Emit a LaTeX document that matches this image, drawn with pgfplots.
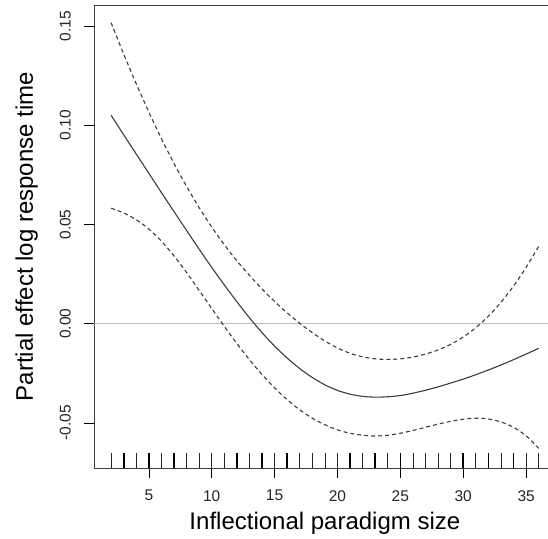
\documentclass[border=0pt]{standalone}
\usepackage{fontspec}
\setmainfont{Liberation Sans}
\usepackage{pgfplots}
\pgfplotsset{compat=1.18}

% smooth term: estimate and +/- 2 se bands
\pgfplotstableread{
x   fit      up       lo
2   0.1050   0.1517   0.0582
3   0.0952   0.1359   0.0558
4   0.0855   0.1209   0.0524
5   0.0758   0.1067   0.0477
6   0.0661   0.0933   0.0416
7   0.0565   0.0808   0.0342
8   0.0470   0.0692   0.0258
9   0.0376   0.0585   0.0168
10  0.0284   0.0487   0.0077
11  0.0196   0.0398  -0.0013
12  0.0111   0.0317  -0.0100
13  0.0030   0.0244  -0.0181
14 -0.0045   0.0175  -0.0256
15 -0.0113   0.0112  -0.0323
16 -0.0173   0.0054  -0.0383
17 -0.0226   0.0002  -0.0434
18 -0.0271  -0.0045  -0.0476
19 -0.0308  -0.0087  -0.0509
20 -0.0336  -0.0122  -0.0535
21 -0.0355  -0.0149  -0.0552
22 -0.0366  -0.0167  -0.0562
23 -0.0370  -0.0177  -0.0566
24 -0.0368  -0.0180  -0.0562
25 -0.0362  -0.0177  -0.0552
26 -0.0350  -0.0168  -0.0538
27 -0.0335  -0.0153  -0.0522
28 -0.0318  -0.0132  -0.0506
29 -0.0299  -0.0104  -0.0492
30 -0.0279  -0.0067  -0.0481
31 -0.0257  -0.0020  -0.0476
32 -0.0233   0.0038  -0.0480
33 -0.0208   0.0108  -0.0495
34 -0.0181   0.0190  -0.0522
35 -0.0153   0.0284  -0.0565
36 -0.0124   0.0390  -0.0628
}\smooth

% rug: single observations and overplotted ones
\pgfplotstableread{
x y
2 -0.0727
4 -0.0727
6 -0.0727
8 -0.0727
9 -0.0727
10 -0.0727
11 -0.0727
13 -0.0727
15 -0.0727
17 -0.0727
18 -0.0727
19 -0.0727
20 -0.0727
22 -0.0727
24 -0.0727
26 -0.0727
27 -0.0727
28 -0.0727
29 -0.0727
31 -0.0727
33 -0.0727
35 -0.0727
36 -0.0727
}\rugthin
\pgfplotstableread{
x y
3 -0.0727
5 -0.0727
7 -0.0727
12 -0.0727
14 -0.0727
16 -0.0727
21 -0.0727
23 -0.0727
25 -0.0727
30 -0.0727
32 -0.0727
34 -0.0727
}\rugthick

\definecolor{zeroline}{RGB}{190,190,190}
\definecolor{curve}{RGB}{60,60,60}

\begin{document}
\begin{tikzpicture}
\begin{axis}[
    name=ax,
    scale only axis,
    width=461.8pt, height=463pt,
    xmin=0.64, xmax=37.36,
    ymin=-0.0727, ymax=0.1606,
    axis line style={black!75, line width=0.8pt},
    tick align=outside,
    major tick length=10pt,
    tick style={black, line width=0.6pt},
    xtick pos=bottom, ytick pos=left,
    xtick={5,10,15,20,25,30,35},
    ytick={-0.05,0,0.05,0.1,0.15},
    yticklabels={-0.05,0.00,0.05,0.10,0.15},
    xticklabels={5,10,15,20,25,30,35},
    tick label style={font=\fontsize{15.5}{18}\selectfont, text=black!85},
    yticklabel style={rotate=90, anchor=south, inner sep=0pt},
    xticklabel style={anchor=north, inner sep=0pt},
    xticklabel shift=12pt,
    yticklabel shift=13pt,
    label style={font=\fontsize{24}{28}\selectfont},
    xlabel={Inflectional paradigm size},
    ylabel={Partial effect log response time},
    xlabel style={at={(axis description cs:0.5,-0.1318)}, anchor=base},
    ylabel style={at={(axis description cs:-0.1321,0.5)}, anchor=base},
]
\addplot[zeroline, line width=0.8pt] coordinates {(0.64,0) (37.36,0)};
\addplot[curve, line width=1.1pt, smooth] table[x=x, y=fit] {\smooth};
\addplot[curve, line width=1.1pt, smooth, dash pattern=on 4pt off 3pt] table[x=x, y=up] {\smooth};
\addplot[curve, line width=1.1pt, smooth, dash pattern=on 4pt off 3pt] table[x=x, y=lo] {\smooth};
\addplot[black!85, line width=0.8pt, no markers, quiver={u=0, v=0.0074}] table[x=x, y=y] {\rugthin};
\addplot[black, line width=1.7pt, no markers, quiver={u=0, v=0.0074}] table[x=x, y=y] {\rugthick};
\end{axis}
\pgfresetboundingbox
\path[use as bounding box] ([shift={(-94pt,-70pt)}]ax.south west) rectangle ([shift={(454pt,468pt)}]ax.south west);
\end{tikzpicture}
\end{document}
